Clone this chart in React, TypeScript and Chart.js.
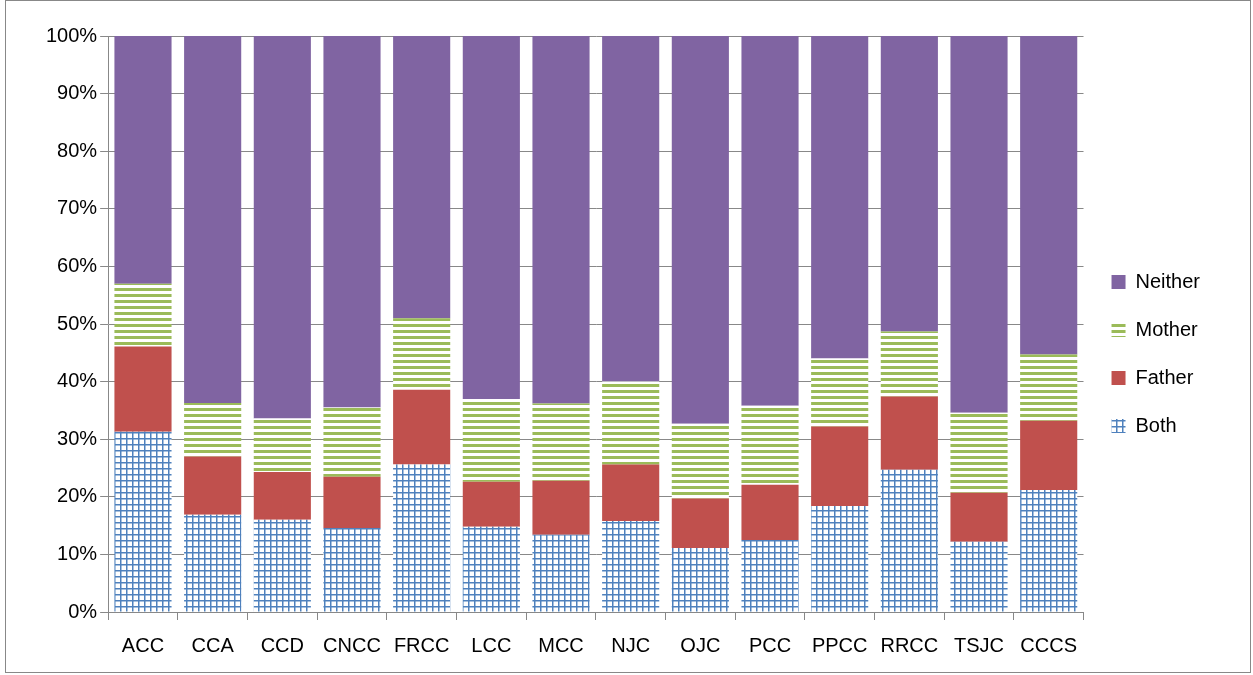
import { useEffect, useRef } from "react";
import { Chart, registerables } from "chart.js";

Chart.register(...registerables);

const categories = ["ACC", "CCA", "CCD", "CNCC", "FRCC", "LCC", "MCC", "NJC", "OJC", "PCC", "PPCC", "RRCC", "TSJC", "CCCS"];
const both = [31.3, 16.9, 16.0, 14.6, 25.6, 14.8, 13.4, 15.8, 11.1, 12.5, 18.4, 24.7, 12.2, 21.2];
const father = [14.8, 10.1, 8.3, 8.9, 13.0, 7.8, 9.4, 9.8, 8.6, 9.6, 13.8, 12.7, 8.5, 12.0];
const mother = [10.9, 9.3, 9.3, 12.0, 12.4, 14.4, 13.4, 14.4, 13.0, 13.7, 11.8, 11.3, 13.9, 11.5];
const neither = both.map((b, i) => +(100 - b - father[i] - mother[i]).toFixed(1));

function gridPattern() {
  const c = document.createElement("canvas");
  c.width = 6; c.height = 6;
  const g = c.getContext("2d")!;
  g.fillStyle = "#ffffff"; g.fillRect(0, 0, 6, 6);
  g.fillStyle = "#4F81BD";
  g.fillRect(0, 0, 6, 1.5); g.fillRect(0, 0, 1.5, 6);
  return g.createPattern(c, "repeat")!;
}

function stripePattern() {
  const c = document.createElement("canvas");
  c.width = 6; c.height = 6;
  const g = c.getContext("2d")!;
  g.fillStyle = "#ffffff"; g.fillRect(0, 0, 6, 6);
  g.fillStyle = "#9BBB59";
  g.fillRect(0, 0, 6, 3);
  return g.createPattern(c, "repeat")!;
}

export default function App() {
  const ref = useRef<HTMLCanvasElement>(null);
  useEffect(() => {
    if (!ref.current) return;
    const chart = new Chart(ref.current, {
      type: "bar",
      data: {
        labels: categories,
        datasets: [
          { label: "Both", data: both, backgroundColor: gridPattern() },
          { label: "Father", data: father, backgroundColor: "#C0504D" },
          { label: "Mother", data: mother, backgroundColor: stripePattern() },
          { label: "Neither", data: neither, backgroundColor: "#8064A2" },
        ],
      },
      options: {
        animation: false,
        responsive: false,
        layout: { padding: { top: 36, right: 43, left: 43, bottom: 3 } },
        datasets: { bar: { categoryPercentage: 0.82, barPercentage: 1 } },
        plugins: {
          tooltip: { enabled: false },
          legend: {
            position: "right",
            reverse: true,
            labels: {
              font: { family: "Liberation Sans", size: 20 },
              color: "#000",
              boxWidth: 14,
              boxHeight: 14,
              padding: 28,
            },
          },
        },
        scales: {
          x: {
            stacked: true,
            grid: { display: true, drawOnChartArea: false, offset: true, color: "#888", tickLength: 8 },
            border: { color: "#888" },
            ticks: { padding: 14, font: { family: "Liberation Sans", size: 20 }, color: "#000", maxRotation: 0 },
          },
          y: {
            stacked: true,
            min: 0,
            max: 100,
            grid: { color: "#888", tickLength: 8 },
            border: { color: "#888" },
            ticks: { stepSize: 10, callback: (v) => `${v}%`, font: { family: "Liberation Sans", size: 20 }, color: "#000" },
          },
        },
      },
    });
    return () => chart.destroy();
  }, []);
  return (
    <div style={{ position: "absolute", left: 0, top: 0, width: 1253, height: 675, background: "#fff" }}>
      <div style={{ position: "absolute", left: 5, top: 0, width: 1246, height: 673, border: "1px solid #888", boxSizing: "border-box" }} />
      <canvas ref={ref} width={1253} height={675} style={{ position: "absolute", left: 0, top: 0 }} />
    </div>
  );
}
